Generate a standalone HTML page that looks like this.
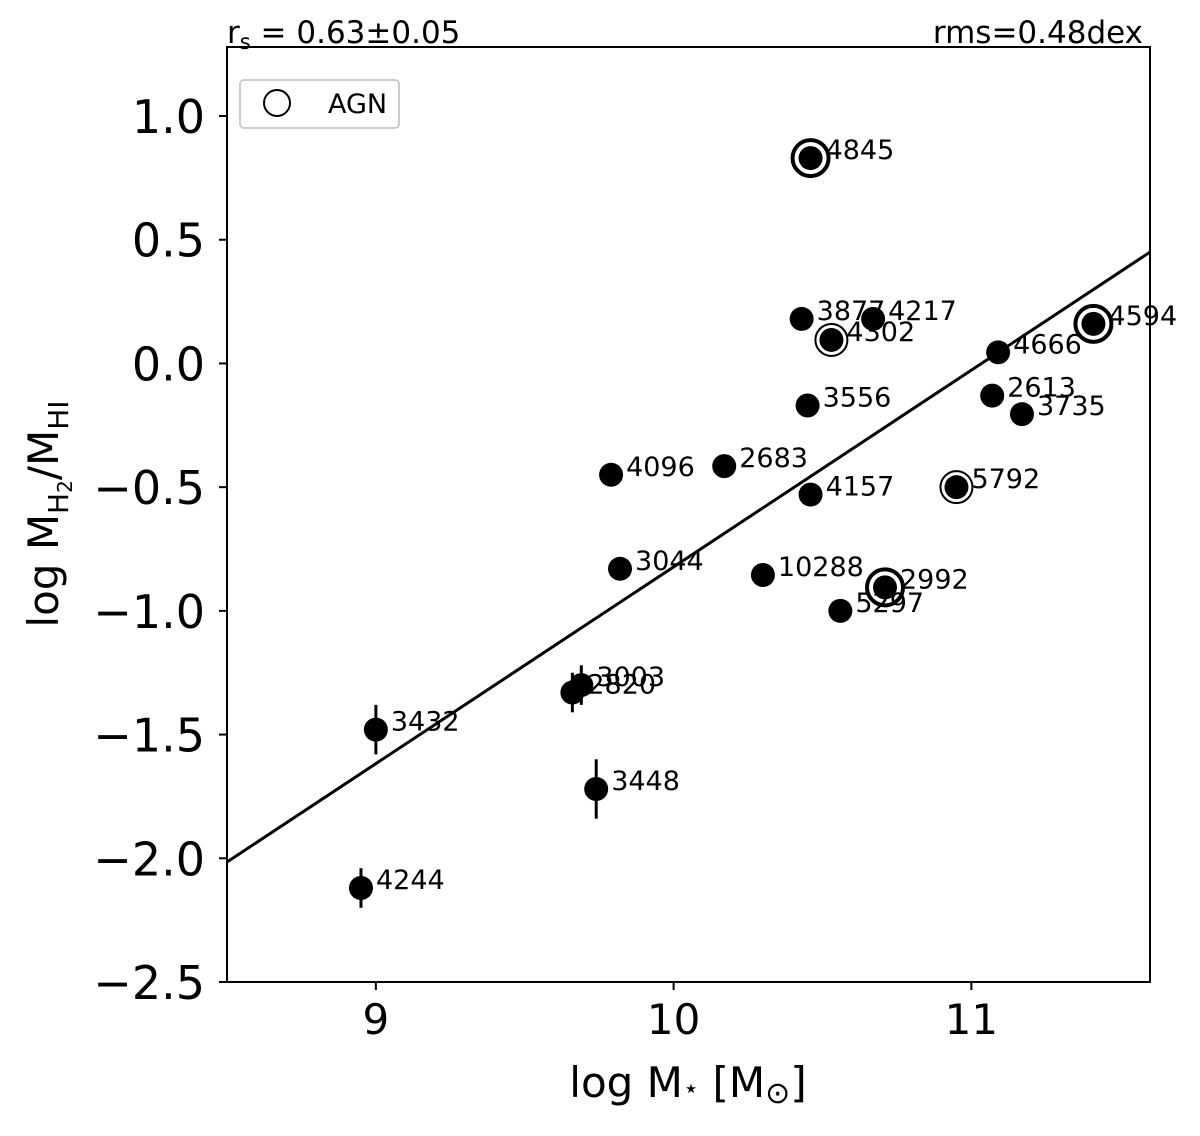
<!DOCTYPE html>
<html><head><meta charset="utf-8"><style>
body{margin:0;background:#fff;}
svg text{font-family:"DejaVu Sans","Liberation Sans",sans-serif;fill:#000;}
</style></head><body>
<svg id="chart" width="1200" height="1131" xmlns="http://www.w3.org/2000/svg"></svg>
<script>
const names=["4845","3877","4217","4302","4594","4666","2613","3735","3556","4096","2683","4157","5792","3044","10288","2992","5297","3003","2820","3432","3448","4244"];
const xVals=[10.46,10.43,10.67,10.53,11.41,11.09,11.07,11.17,10.45,9.79,10.17,10.46,10.95,9.82,10.30,10.71,10.56,9.69,9.66,9.0,9.74,8.95];
const yVals=[0.83,0.18,0.18,0.095,0.16,0.045,-0.13,-0.205,-0.17,-0.45,-0.415,-0.53,-0.50,-0.83,-0.855,-0.905,-1.0,-1.30,-1.33,-1.48,-1.72,-2.12];
const yErr=[0,0,0,0,0,0,0,0,0,0,0,0,0,0,0,0,0,0.08,0.08,0.1,0.12,0.08];
const agn=[2,0,0,1,2,0,0,0,0,0,0,0,1,0,0,2,0,0,0,0,0,0];
const xTicks=[9,10,11];
const yTicks=[1.0,0.5,0.0,-0.5,-1.0,-1.5,-2.0,-2.5];
const fitX=[8.5,11.6];
const fitY=[-2.015,0.45];
const L=227,R=1150,T=47,B=982;
const xMin=8.5,xMax=11.6,yMin=-2.5,yMax=1.279;
const sx=v=>L+(v-xMin)/(xMax-xMin)*(R-L);
const sy=v=>B-(v-yMin)/(yMax-yMin)*(B-T);
const svg=document.getElementById('chart');
const NS="http://www.w3.org/2000/svg";
function mk(t,a,p){const e=document.createElementNS(NS,t);for(const k in a)e.setAttribute(k,a[k]);(p||svg).appendChild(e);return e;}
const cp=mk('clipPath',{id:'cp'});mk('rect',{x:L,y:T,width:R-L,height:B-T},cp);
const fl=mk('line',{x1:sx(fitX[0]),y1:sy(fitY[0]),x2:sx(fitX[1]),y2:sy(fitY[1]),stroke:'#000','stroke-width':3,'clip-path':'url(#cp)'});


for(let i=0;i<names.length;i++){
  const g=mk('g',{});
  
  
  const cx=sx(xVals[i]),cy=sy(yVals[i]);
  if(yErr[i]>0) mk('line',{x1:cx,x2:cx,y1:sy(yVals[i]+yErr[i]),y2:sy(yVals[i]-yErr[i]),stroke:'#000','stroke-width':3},g);
  if(agn[i]==2) mk('circle',{cx:cx,cy:cy,r:18,fill:'#fff',stroke:'#000','stroke-width':4},g);
  if(agn[i]==1) mk('circle',{cx:cx,cy:cy,r:16,fill:'#fff',stroke:'#000','stroke-width':2},g);
  mk('circle',{cx:cx,cy:cy,r:12,fill:'#000'},g);
  const t=mk('text',{x:cx+15,y:cy+1,'font-size':27},g);t.textContent=names[i];
}
const fr=mk('rect',{x:L,y:T,width:R-L,height:B-T,fill:'none',stroke:'#000','stroke-width':2});


xTicks.forEach(v=>{const x=sx(v);mk('line',{x1:x,x2:x,y1:B,y2:B+8,stroke:'#000','stroke-width':2});
 const t=mk('text',{x:x,y:B+52,'font-size':42,'text-anchor':'middle'});t.textContent=v;
 
 });
yTicks.forEach(v=>{const y=sy(v);mk('line',{x1:L-8,x2:L,y1:y,y2:y,stroke:'#000','stroke-width':2});
 const t=mk('text',{x:L-22,y:y+17,'font-size':46,'text-anchor':'end'});t.textContent=(v<0?'\u2212':'')+Math.abs(v).toFixed(1);
 
 });
</script>
<svg width="1200" height="1131" style="position:absolute;left:0;top:0" xmlns="http://www.w3.org/2000/svg">
<text x="688" y="1097" font-size="42" text-anchor="middle">log M<tspan font-size="26">⋆</tspan> [M<tspan font-size="30" dy="6">⊙</tspan><tspan dy="-6">]</tspan></text>
<text transform="translate(58,514) rotate(-90)" font-size="42" text-anchor="middle">log M<tspan font-size="28" dy="10">H<tspan font-size="20" dy="4">2</tspan></tspan><tspan dy="-14">/M</tspan><tspan font-size="28" dy="10">HI</tspan></text>
<text x="227" y="43" font-size="31">r<tspan font-size="21" dy="6">s</tspan><tspan dy="-6"> = 0.63±0.05</tspan></text>
<text x="1143" y="43" font-size="31" text-anchor="end">rms=0.48dex</text>
<g>
<rect x="240" y="80" width="159" height="48" rx="4" fill="#fff" stroke="#ccc" stroke-width="2"/>
<circle cx="277" cy="103" r="13" fill="#fff" stroke="#000" stroke-width="2"/>
<text x="328" y="113" font-size="27">AGN</text>
</g>
</svg>
</body></html>
